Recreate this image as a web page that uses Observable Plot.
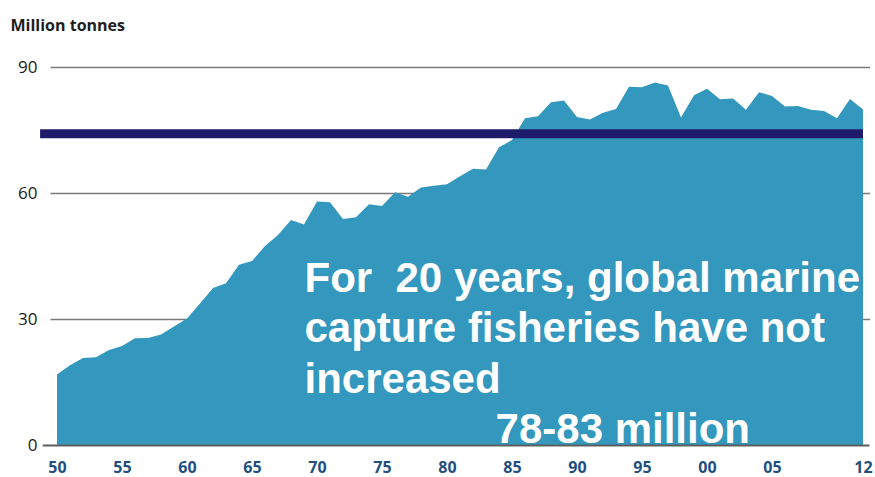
<!DOCTYPE html>
<html>
<head>
<meta charset="utf-8">
<script src="https://cdn.jsdelivr.net/npm/d3@7"></script>
<script src="https://cdn.jsdelivr.net/npm/@observablehq/plot@0.6"></script>
<style>
  html, body { margin: 0; padding: 0; background: #fff; }
  #chart svg { display: block; }
</style>
</head>
<body>
<div id="chart"></div>
<script>
// Global marine capture fisheries production, million tonnes
const years = [
  1950, 1951, 1952, 1953, 1954, 1955, 1956, 1957, 1958, 1959,
  1960, 1961, 1962, 1963, 1964, 1965, 1966, 1967, 1968, 1969,
  1970, 1971, 1972, 1973, 1974, 1975, 1976, 1977, 1978, 1979,
  1980, 1981, 1982, 1983, 1984, 1985, 1986, 1987, 1988, 1989,
  1990, 1991, 1992, 1993, 1994, 1995, 1996, 1997, 1998, 1999,
  2000, 2001, 2002, 2003, 2004, 2005, 2006, 2007, 2008, 2009,
  2010, 2011, 2012
];
const catchMt = [
  16.8, 19.0, 20.7, 20.9, 22.6, 23.6, 25.4, 25.5, 26.3, 28.2,
  30.1, 33.7, 37.4, 38.5, 42.9, 43.8, 47.4, 50.0, 53.6, 52.5,
  58.0, 57.8, 53.8, 54.2, 57.3, 56.9, 60.2, 59.1, 61.3, 61.7,
  62.1, 64.0, 65.8, 65.6, 70.9, 72.6, 77.8, 78.3, 81.6, 82.0,
  78.1, 77.5, 79.1, 80.0, 85.3, 85.2, 86.3, 85.6, 78.0, 83.3,
  84.8, 82.3, 82.5, 79.8, 84.0, 83.1, 80.6, 80.7, 79.8, 79.5,
  77.8, 82.4, 79.9
];
const xTicks = [1950, 1955, 1960, 1965, 1970, 1975, 1980, 1985, 1990, 1995, 2000, 2005, 2012];
const yTicks = [0, 30, 60, 90];
const gridValues = [30, 60, 90];
const plateauLevel = 74.2;   // the flat level annotated by the dark bar

const rows = years.map((year, i) => ({year, value: catchMt[i]}));

const chart = Plot.plot({
  width: 875,
  height: 477,
  marginLeft: 57,
  marginRight: 12,
  marginTop: 67,
  marginBottom: 32,
  style: {fontFamily: "'Open Sans', sans-serif", background: "#fff"},
  x: {domain: [1950, 2012]},
  y: {domain: [0, 90]},
  marks: [
    // horizontal grid
    Plot.ruleY(gridValues, {x1: 1949.5, x2: 2012.55, stroke: "#7a7a7a", strokeWidth: 1.5}),
    // catch area
    Plot.areaY(rows, {x: "year", y: "value", fill: "#3397be"}),
    // plateau bar
    Plot.ruleY([plateauLevel], {x1: 1948.7, x2: 2012, stroke: "#1e1b6b", strokeWidth: 9}),
    // baseline
    Plot.ruleY([0], {x1: 1948.9, x2: 2012.5, stroke: "#5e5e5e", strokeWidth: 2}),
    // axes
    Plot.axisY(yTicks, {
      tickSize: 0, tickPadding: 20, fontSize: 17, fill: "#1a1a1a", label: null
    }),
    Plot.axisX(xTicks, {
      tickSize: 0, tickPadding: 16, fontSize: 16, fontWeight: 700, fill: "#1f4f7f", label: null,
      tickFormat: d => String(d % 100).padStart(2, "0")
    }),
    // unit label
    Plot.text(["Million tonnes"], {
      frameAnchor: "top-left", dx: -47, dy: -48, lineAnchor: "top", textAnchor: "start",
      fontSize: 16, fontWeight: 700, fill: "#1e1e1e"
    }),
    // annotation
    Plot.text(["For  20 years, global marine\ncapture fisheries have not\nincreased"], {
      x: 1969.0, y: 45.1, lineAnchor: "top", textAnchor: "start", lineHeight: 1.2,
      fontSize: 42, fontWeight: 700, fill: "#fff", fontFamily: "'Liberation Sans', Arial, sans-serif"
    }),
    Plot.text(["78-83 million"], {
      x: 1983.7, y: 7.6, lineAnchor: "top", textAnchor: "start", clip: "frame",
      fontSize: 42, fontWeight: 700, fill: "#fff", fontFamily: "'Liberation Sans', Arial, sans-serif"
    })
  ]
});

document.getElementById("chart").appendChild(chart);
</script>
</body>
</html>
